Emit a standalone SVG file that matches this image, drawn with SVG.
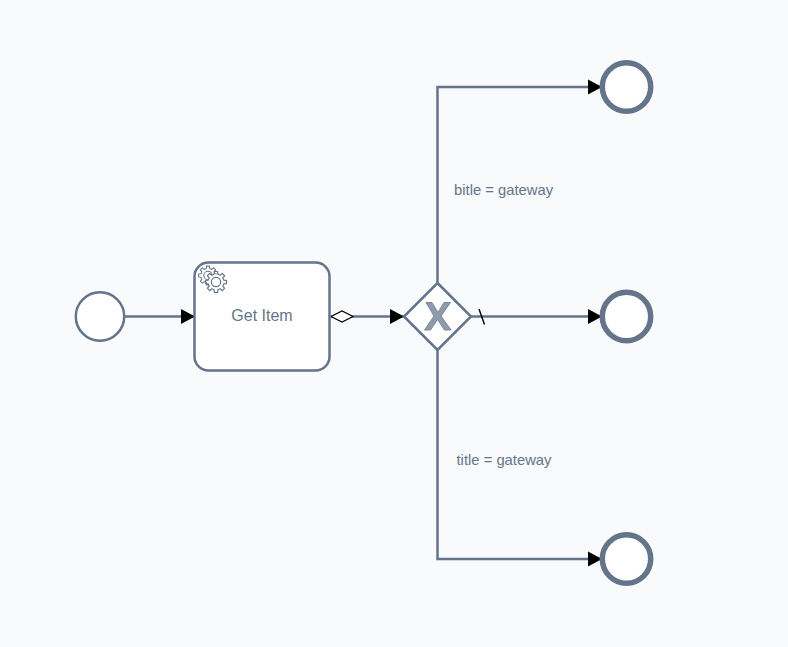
<svg xmlns="http://www.w3.org/2000/svg" xmlns:xlink="http://www.w3.org/1999/xlink" width="788" height="647" viewBox="0 0 788 647">
<style>
.shape{fill:#fff;stroke:#64748b;stroke-width:2.5}
.end{fill:#fff;stroke:#64748b;stroke-width:5.5}
.flow{fill:none;stroke:#64748b;stroke-width:2.5;marker-end:url(#arrow)}
.gearline{fill:none;stroke:#64748b;stroke-width:1.1;stroke-linejoin:round}
text{font-family:"Liberation Sans",Arial,sans-serif;fill:#66758a}
.task{font-size:16px;text-anchor:middle}
.label{font-size:14.8px}
</style>
<defs>
<marker id="arrow" markerUnits="userSpaceOnUse" markerWidth="16" markerHeight="18" refX="15" refY="9" orient="auto">
<path d="M1 1.500L15 9L1 16.500Z" fill="#000"/>
</marker>
<path id="tooth" class="gearline" d="M6.93-2.87L7.28-1.81L9.88-1.56L9.88 1.56L7.28 1.81L6.93 2.87"/>
<g id="gearshape">
<circle r="7.4" fill="#fff"/>
<use xlink:href="#tooth"/>
<use xlink:href="#tooth" transform="rotate(45)"/>
<use xlink:href="#tooth" transform="rotate(90)"/>
<use xlink:href="#tooth" transform="rotate(135)"/>
<use xlink:href="#tooth" transform="rotate(180)"/>
<use xlink:href="#tooth" transform="rotate(225)"/>
<use xlink:href="#tooth" transform="rotate(270)"/>
<use xlink:href="#tooth" transform="rotate(315)"/>
<circle class="gearline" r="4.4"/>
</g>
</defs>
<rect width="788" height="647" fill="#f8fafc"/>
<g id="connectors">
<path class="flow" d="M125 316.500H195"/>
<path class="flow" d="M331 316.500H404"/>
<path class="flow" d="M437.500 283V87H602"/>
<path class="flow" d="M471 316.500H602"/>
<path class="flow" d="M437.500 350V559H602"/>
<path d="M331 316.500L342 311L353 316.500L342 322Z" fill="#fff" stroke="#000" stroke-width="1.200"/>
<path d="M479 309L484.500 324.500" fill="none" stroke="#000" stroke-width="1.400"/>
</g>
<g id="start"><circle class="shape" cx="100" cy="316.500" r="24.200"/></g>
<g id="task">
<rect class="shape" x="194.500" y="262.500" width="135" height="108" rx="14" ry="14"/>
<use xlink:href="#gearshape" transform="translate(208,275.500) scale(.95)"/>
<use xlink:href="#gearshape" transform="translate(216,282) scale(1.060)"/>
<text class="task" x="262" y="321">Get Item</text>
</g>
<g id="gateway">
<path class="shape" d="M437.500 283L471 316.500L437.500 350L404 316.500Z"/>
<path d="M426 302.500H432L438 312.500L444 302.500H450.500L441 316L451 330H444.500L437.500 319.500L430.500 330H424.500L434 316Z" fill="#8f9bab" stroke="#7a899c" stroke-width="1"/>
</g>
<g id="end-top"><circle class="end" cx="626.500" cy="87" r="24.200"/></g>
<g id="end-middle"><circle class="end" cx="626.500" cy="316.500" r="24.200"/></g>
<g id="end-bottom"><circle class="end" cx="626.500" cy="559" r="24.200"/></g>
<g id="labels">
<text class="label" x="454" y="195">bitle = gateway</text>
<text class="label" x="456.500" y="465">title = gateway</text>
</g>
</svg>
